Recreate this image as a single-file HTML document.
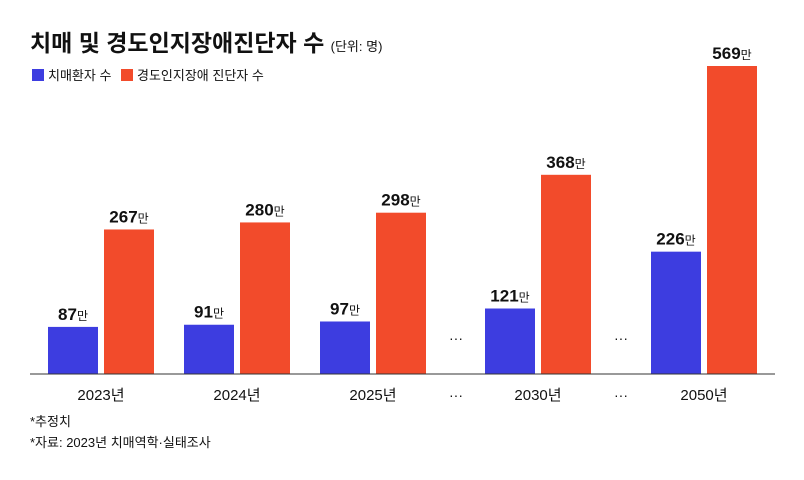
<!DOCTYPE html>
<html><head><meta charset="utf-8"><style>
body{margin:0;background:#fff;font-family:"Liberation Sans","Noto Sans CJK KR",sans-serif;}
#wrap{position:relative;width:804px;height:480px;overflow:hidden;}
.t{position:absolute;white-space:nowrap;color:#111;}
</style></head><body>
<div id="wrap">
<div class="t" style="left:30px;top:24px;font-size:23px;font-weight:bold;">치매 및 경도인지장애진단자 수 <span style="font-size:13px;font-weight:normal;">(단위: 명)</span></div>
<div class="t" style="left:32px;top:65px;font-size:13px;"><span style="display:inline-block;width:12px;height:12px;background:#3d3de0;vertical-align:-1px;margin-right:4px;"></span>치매환자 수</div>
<div class="t" style="left:121px;top:65px;font-size:13px;"><span style="display:inline-block;width:12px;height:12px;background:#f24b2b;vertical-align:-1px;margin-right:4px;"></span>경도인지장애 진단자 수</div>
<svg id="chart" width="804" height="480" style="position:absolute;left:0;top:0;"></svg>
<div class="t" style="left:30px;top:411px;font-size:13px;">*추정치</div>
<div class="t" style="left:30px;top:432px;font-size:13px;">*자료: 2023년 치매역학·실태조사</div>
</div>
<script>
const categories=["2023년","2024년","2025년","2030년","2050년"];
const dementia=[87,91,97,121,226];
const mci=[267,280,298,368,569];
const groupCenters=[101,237,373,538,704];
const svg=document.getElementById('chart');
const NS='http://www.w3.org/2000/svg';
const base=374, scale=308/569;
function y(v){return base-v*scale;}
function mk(tag,attrs){const e=document.createElementNS(NS,tag);for(const k in attrs)e.setAttribute(k,attrs[k]);svg.appendChild(e);return e;}
function label(x,yy,val){const t=mk('text',{x:x,y:yy,'text-anchor':'middle','font-size':'17','font-weight':'bold','font-family':'Liberation Sans, Noto Sans CJK KR, sans-serif',fill:'#111'});

t.textContent=val;const s=document.createElementNS(NS,'tspan');s.setAttribute('font-size','12');s.setAttribute('font-weight','normal');s.textContent='만';t.appendChild(s);}
categories.forEach((c,i)=>{
 const cx=groupCenters[i];
 const b=mk('rect',{x:cx-53,y:y(dementia[i]),width:50,height:base-y(dementia[i]),fill:'#3d3de0'});
 
 
 const o=mk('rect',{x:cx+3,y:y(mci[i]),width:50,height:base-y(mci[i]),fill:'#f24b2b'});
 
 
 label(cx-28,y(dementia[i])-7,dementia[i]);
 label(cx+28,y(mci[i])-7,mci[i]);
 const t=mk('text',{x:cx,y:400,'text-anchor':'middle','font-size':'15','font-family':'Liberation Sans, Noto Sans CJK KR, sans-serif',fill:'#111'});
 
 
 t.textContent=c;
});
const ax=mk('line',{x1:30,x2:775,y1:base,y2:base,stroke:'#333','stroke-width':1});


[456,621].forEach(x=>{[343,400].forEach(yy=>{const t=mk('text',{x:x,y:yy,'text-anchor':'middle','font-size':'14',fill:'#111'});
 
 
 t.textContent='···';});});
</script>
</body></html>
